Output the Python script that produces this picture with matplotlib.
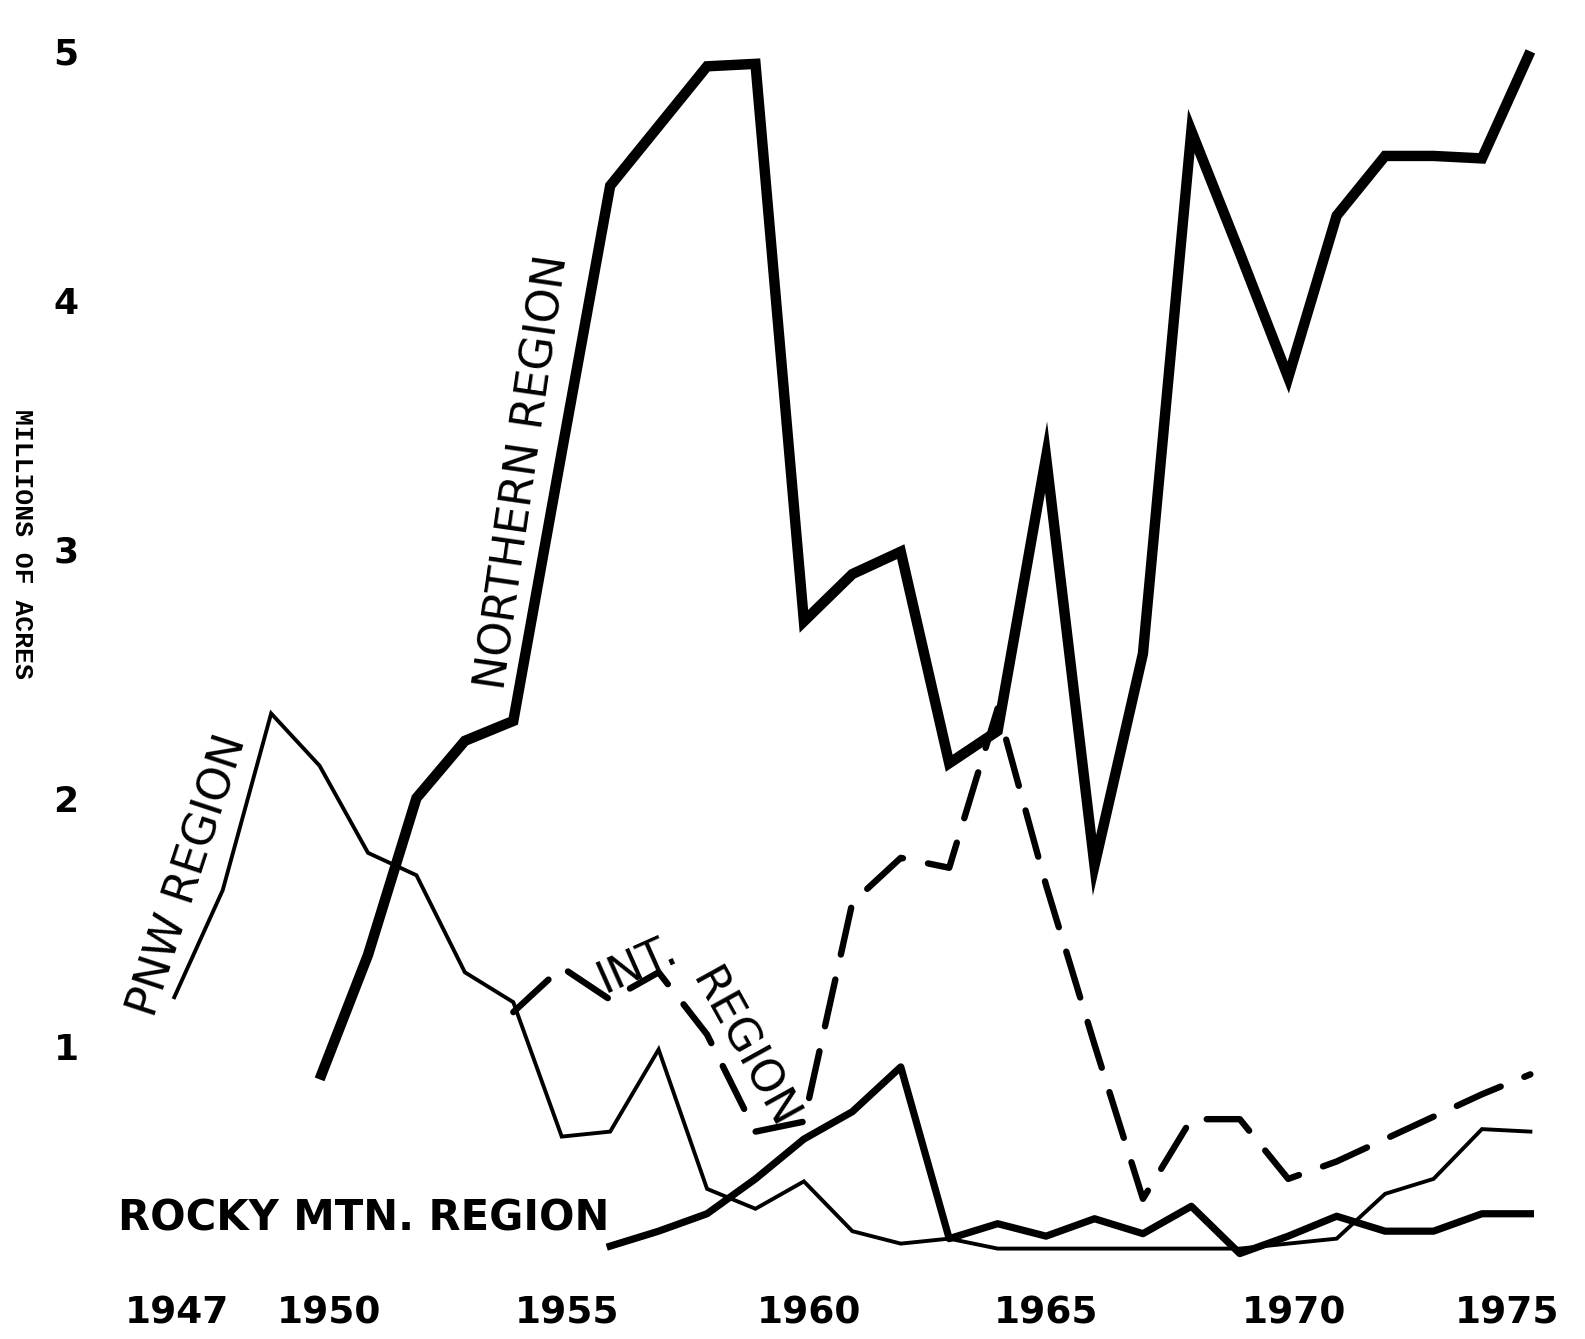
import matplotlib
matplotlib.use('Agg')
import matplotlib.pyplot as plt
from matplotlib.transforms import ScaledTranslation

# millions of acres per year
pnw_years = list(range(1947, 1976))
pnw = [1.20, 1.63, 2.34, 2.13, 1.78, 1.69, 1.30, 1.18, 0.64, 0.66,
       0.99, 0.43, 0.35, 0.46, 0.26, 0.21, 0.23, 0.19, 0.19, 0.19,
       0.19, 0.19, 0.19, 0.21, 0.23, 0.41, 0.47, 0.67, 0.66]

north_years = list(range(1950, 1976))
north = [0.87, 1.37, 2.00, 2.23, 2.31, 3.39, 4.46, 4.70, 4.94, 4.95,
         2.71, 2.90, 2.99, 2.14, 2.27, 3.37, 1.73, 2.58, 4.68, 4.19,
         3.69, 4.34, 4.58, 4.58, 4.57, 5.00]

int_years = list(range(1954, 1976))
intermtn = [1.14, 1.32, 1.19, 1.30, 1.05, 0.66, 0.70, 1.58, 1.76, 1.72,
            2.36, 1.65, 1.01, 0.39, 0.71, 0.71, 0.47, 0.54, 0.63, 0.72,
            0.81, 0.89]

rocky_years = list(range(1956, 1976))
rocky = [0.20, 0.26, 0.33, 0.47, 0.63, 0.74, 0.92, 0.23, 0.29, 0.24,
         0.31, 0.25, 0.36, 0.17, 0.24, 0.32, 0.26, 0.26, 0.33, 0.33]

xticks = [1947, 1950, 1955, 1960, 1965, 1970, 1975]
yticks = [1, 2, 3, 4, 5]

fig = plt.figure(figsize=(15.85, 13.39), dpi=100, facecolor='w')
ax = fig.add_axes([0.0794, 0.0322, 0.9167, 0.9573])

ax.plot(north_years, north, color='k', lw=7.5, solid_joinstyle='miter', solid_capstyle='butt')
ax.plot(pnw_years, pnw, color='k', lw=2.8, solid_joinstyle='miter')
ax.plot(rocky_years, rocky, color='k', lw=5.2, solid_joinstyle='round')
ax.plot(int_years, intermtn, color='k', lw=4.6, ls=(0, (7.5, 4.0)),
        dash_capstyle='round', dash_joinstyle='round')

ax.set_xlim(1946, 1976)
ax.set_ylim(0, 5.15)
for spine in ('top', 'right', 'bottom', 'left'):
    ax.spines[spine].set_visible(False)

ax.set_xticks(xticks)
ax.set_xticklabels([str(y) for y in xticks], fontsize=27, fontweight='bold',
                   family='DejaVu Sans')
ax.set_yticks(yticks)
ax.set_yticklabels([str(v) for v in yticks], fontsize=26, fontweight='bold',
                   family='DejaVu Sans')
ax.xaxis.set_tick_params(length=0, pad=0)
ax.yaxis.set_tick_params(length=0, pad=34)
# the hand-lettered year labels sit a little off their ticks
shifts = [3, 9, 5, 5, 0, 6, -23]
for lbl, dx in zip(ax.get_xticklabels(), shifts):
    lbl.set_transform(lbl.get_transform() + ScaledTranslation(dx / 100, 0, fig.dpi_scale_trans))

lab = dict(fontsize=32, family='DejaVu Sans', ha='center', va='center',
           rotation_mode='anchor')
ax.text(1954.2, 3.31, 'NORTHERN REGION', rotation=81.8, **lab)
ax.text(1947.3, 1.69, 'PNW REGION', rotation=71.8, **lab)
ax.text(1956.56, 1.33, 'INT.', rotation=24, **lab)
ax.text(1958.75, 0.99, 'REGION', rotation=-61, **lab)
ax.text(1950.92, 0.31, 'ROCKY MTN. REGION', fontweight='bold',
        **dict(lab, fontsize=30))

fig.text(22 / 1585, 1 - 544 / 1339, 'MILLIONS OF ACRES', rotation=-90,
         ha='center', va='center', fontsize=19, family='Liberation Mono',
         fontweight='bold')

fig.savefig('out.png', dpi=100, facecolor='w')
